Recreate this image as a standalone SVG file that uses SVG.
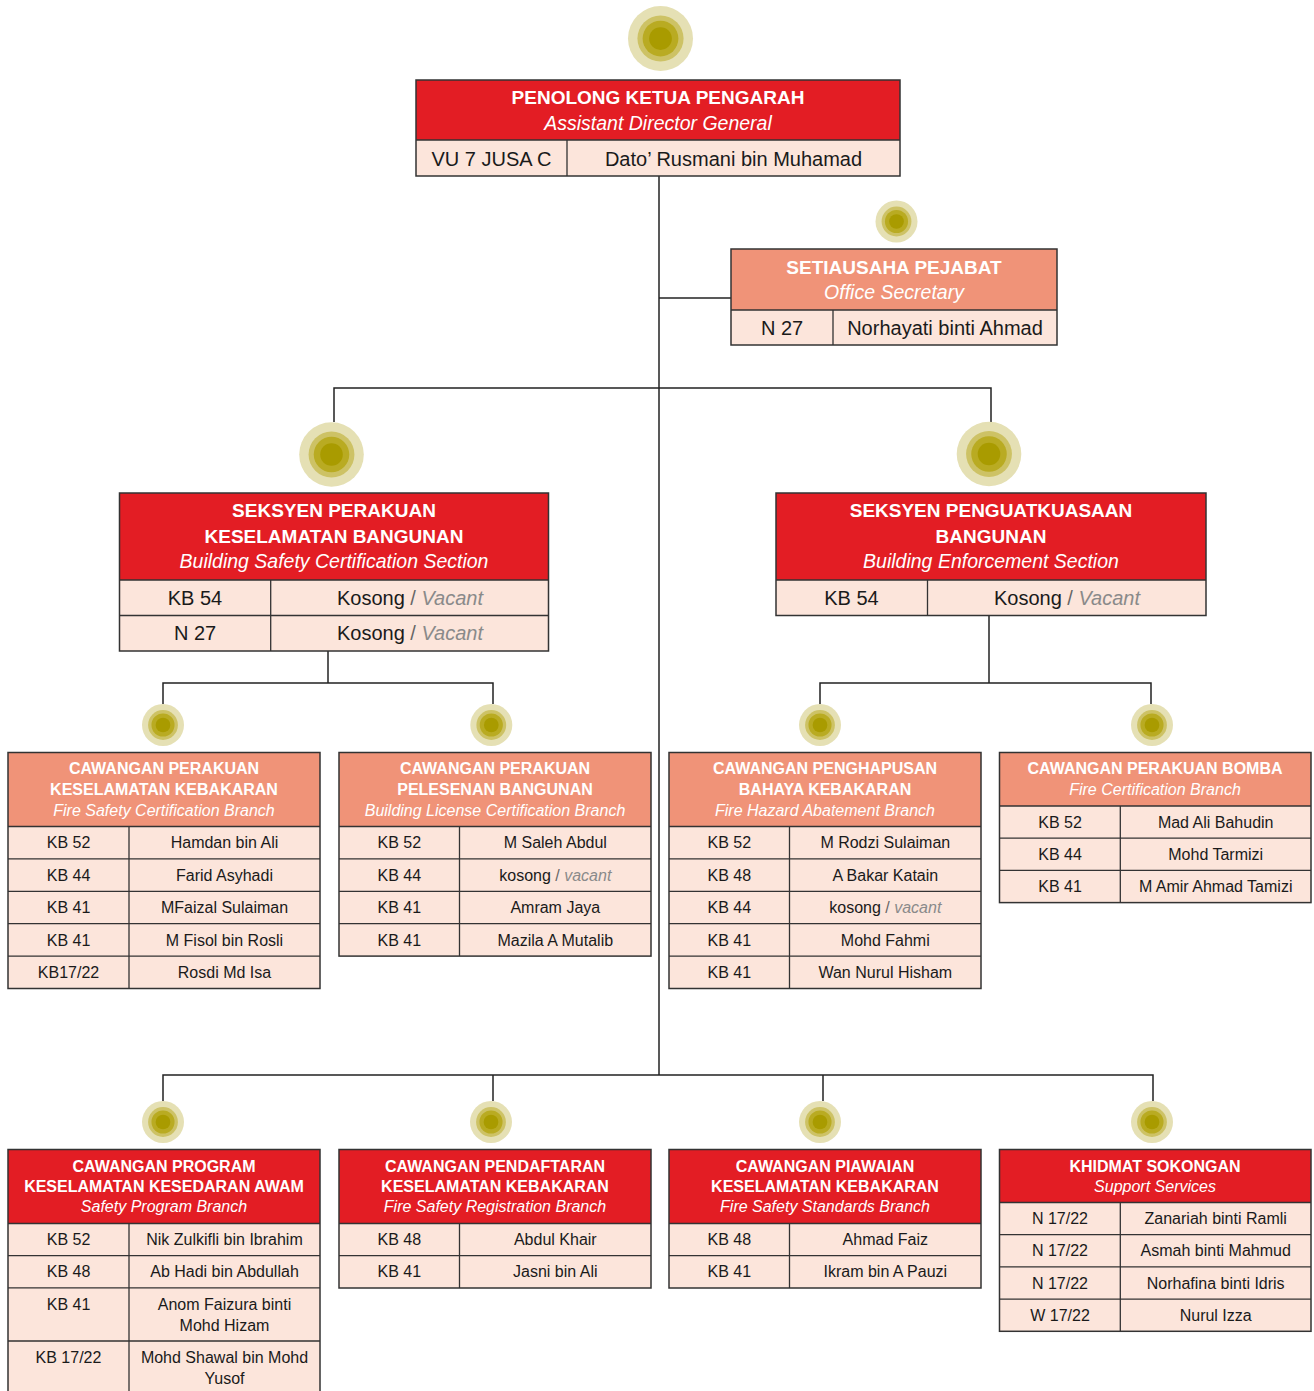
<svg xmlns="http://www.w3.org/2000/svg" xmlns:xlink="http://www.w3.org/1999/xlink" width="1314" height="1391" viewBox="0 0 1314 1391">
<style>
.red{fill:#e31d24}
.sal{fill:#f09378}
.row{fill:#fce5db}
.bd{fill:none;stroke:#333;stroke-width:1.5}
.ln{fill:none;stroke:#333;stroke-width:1.3}
.con{fill:none;stroke:#222;stroke-width:1.5}
text{font-family:"Liberation Sans",Arial,sans-serif;text-anchor:middle}
.t1{font-size:19px;font-weight:bold;fill:#fff}
.t2{font-size:16px;font-weight:bold;fill:#fff}
.i1{font-size:19.5px;font-style:italic;fill:#fff}
.i2{font-size:16px;font-style:italic;fill:#fff}
.r1{font-size:20px;fill:#1a1a1a}
.r2{font-size:16px;fill:#1a1a1a}
.sl{fill:#666}
.vac{fill:#8a8a8a;font-style:italic}
</style>
<defs>
<g id="dot">
<circle r="1" fill="#e5e0b4"/>
<circle r="0.71" fill="#cdc265"/>
<circle r="0.55" fill="#b9ab22"/>
<circle r="0.35" fill="#a99b00"/>
</g>
</defs>

<g id="connectors">
<path class="con" d="M659 176 V1075"/>
<path class="con" d="M659 298 H731"/>
<path class="con" d="M334 422 V388 H991 V422"/>
<path class="con" d="M328 651 V683"/>
<path class="con" d="M163 704 V683 H493 V704"/>
<path class="con" d="M989 616 V683"/>
<path class="con" d="M820 704 V683 H1151 V704"/>
<path class="con" d="M163 1101 V1075 H1153 V1101"/>
<path class="con" d="M493 1075 V1101"/>
<path class="con" d="M823 1075 V1101"/>
</g>

<g id="dots">
<use xlink:href="#dot" transform="translate(660.5 38.5) scale(32.5)"/>
<use xlink:href="#dot" transform="translate(896.5 221.5) scale(21)"/>
<use xlink:href="#dot" transform="translate(331.5 454.5) scale(32.3)"/>
<use xlink:href="#dot" transform="translate(989 454) scale(32.3)"/>
<use xlink:href="#dot" transform="translate(163 725) scale(21)"/>
<use xlink:href="#dot" transform="translate(491.3 725) scale(21)"/>
<use xlink:href="#dot" transform="translate(820 725) scale(21)"/>
<use xlink:href="#dot" transform="translate(1152 725) scale(21)"/>
<use xlink:href="#dot" transform="translate(163 1122) scale(21)"/>
<use xlink:href="#dot" transform="translate(491 1122) scale(21)"/>
<use xlink:href="#dot" transform="translate(820 1122) scale(21)"/>
<use xlink:href="#dot" transform="translate(1152 1122) scale(21)"/>
</g>

<g id="node-top">
<rect class="red" x="416" y="80" width="484" height="60"/>
<rect class="row" x="416" y="140" width="484" height="36"/>
<path class="ln" d="M416 140 H900 M567 140 V176"/>
<rect class="bd" x="416" y="80" width="484" height="96"/>
<text class="t1" x="658" y="104">PENOLONG KETUA PENGARAH</text>
<text class="i1" x="658" y="130">Assistant Director General</text>
<text class="r1" x="491.5" y="166">VU 7 JUSA C</text>
<text class="r1" x="733.5" y="166">Dato’ Rusmani bin Muhamad</text>
</g>

<g id="node-secretary">
<rect class="sal" x="731" y="249" width="326" height="61"/>
<rect class="row" x="731" y="310" width="326" height="35"/>
<path class="ln" d="M731 310 H1057 M833 310 V345"/>
<rect class="bd" x="731" y="249" width="326" height="96"/>
<text class="t1" x="894" y="274">SETIAUSAHA PEJABAT</text>
<text class="i1" x="894" y="299">Office Secretary</text>
<text class="r1" x="782" y="335">N 27</text>
<text class="r1" x="945" y="335">Norhayati binti Ahmad</text>
</g>

<g id="node-section-cert">
<rect class="red" x="119.5" y="493" width="429" height="87"/>
<rect class="row" x="119.5" y="580" width="429" height="71"/>
<path class="ln" d="M119.5 580 H548.5 M119.5 615.5 H548.5 M270.7 580 V651"/>
<rect class="bd" x="119.5" y="493" width="429" height="158"/>
<text class="t1" x="334" y="517">SEKSYEN PERAKUAN</text>
<text class="t1" x="334" y="543">KESELAMATAN BANGUNAN</text>
<text class="i1" x="334" y="568">Building Safety Certification Section</text>
<text class="r1" x="195" y="605">KB 54</text>
<text class="r1" x="410" y="605">Kosong <tspan class="sl">/ </tspan><tspan class="vac">Vacant</tspan></text>
<text class="r1" x="195" y="640">N 27</text>
<text class="r1" x="410" y="640">Kosong <tspan class="sl">/ </tspan><tspan class="vac">Vacant</tspan></text>
</g>

<g id="node-section-enf">
<rect class="red" x="776" y="493" width="430" height="87"/>
<rect class="row" x="776" y="580" width="430" height="35.5"/>
<path class="ln" d="M776 580 H1206 M927.5 580 V615.5"/>
<rect class="bd" x="776" y="493" width="430" height="122.5"/>
<text class="t1" x="991" y="517">SEKSYEN PENGUATKUASAAN</text>
<text class="t1" x="991" y="543">BANGUNAN</text>
<text class="i1" x="991" y="568">Building Enforcement Section</text>
<text class="r1" x="851.5" y="605">KB 54</text>
<text class="r1" x="1067" y="605">Kosong <tspan class="sl">/ </tspan><tspan class="vac">Vacant</tspan></text>
</g>

<g id="node-b1">
<rect class="sal" x="8" y="752.5" width="312" height="74"/>
<rect class="row" x="8" y="826.5" width="312" height="162"/>
<path class="ln" d="M8 826.5 H320 M8 858.9 H320 M8 891.3 H320 M8 923.7 H320 M8 956.1 H320 M129 826.5 V988.5"/>
<rect class="bd" x="8" y="752.5" width="312" height="236"/>
<text class="t2" x="164" y="774">CAWANGAN PERAKUAN</text>
<text class="t2" x="164" y="795">KESELAMATAN KEBAKARAN</text>
<text class="i2" x="164" y="815.5">Fire Safety Certification Branch</text>
<text class="r2" x="68.5" y="848">KB 52</text><text class="r2" x="224.5" y="848">Hamdan bin Ali</text>
<text class="r2" x="68.5" y="880.5">KB 44</text><text class="r2" x="224.5" y="880.5">Farid Asyhadi</text>
<text class="r2" x="68.5" y="913">KB 41</text><text class="r2" x="224.5" y="913">MFaizal Sulaiman</text>
<text class="r2" x="68.5" y="945.5">KB 41</text><text class="r2" x="224.5" y="945.5">M Fisol bin Rosli</text>
<text class="r2" x="68.5" y="978">KB17/22</text><text class="r2" x="224.5" y="978">Rosdi Md Isa</text>
</g>

<g id="node-b2">
<rect class="sal" x="339" y="752.5" width="312" height="74"/>
<rect class="row" x="339" y="826.5" width="312" height="129.6"/>
<path class="ln" d="M339 826.5 H651 M339 858.9 H651 M339 891.3 H651 M339 923.7 H651 M459.5 826.5 V956.1"/>
<rect class="bd" x="339" y="752.5" width="312" height="203.6"/>
<text class="t2" x="495" y="774">CAWANGAN PERAKUAN</text>
<text class="t2" x="495" y="795">PELESENAN BANGUNAN</text>
<text class="i2" x="495" y="815.5">Building License Certification Branch</text>
<text class="r2" x="399.3" y="848">KB 52</text><text class="r2" x="555.3" y="848">M Saleh Abdul</text>
<text class="r2" x="399.3" y="880.5">KB 44</text><text class="r2" x="555.3" y="880.5">kosong <tspan class="sl">/ </tspan><tspan class="vac">vacant</tspan></text>
<text class="r2" x="399.3" y="913">KB 41</text><text class="r2" x="555.3" y="913">Amram Jaya</text>
<text class="r2" x="399.3" y="945.5">KB 41</text><text class="r2" x="555.3" y="945.5">Mazila A Mutalib</text>
</g>

<g id="node-b3">
<rect class="sal" x="669" y="752.5" width="312" height="74"/>
<rect class="row" x="669" y="826.5" width="312" height="162"/>
<path class="ln" d="M669 826.5 H981 M669 858.9 H981 M669 891.3 H981 M669 923.7 H981 M669 956.1 H981 M789.5 826.5 V988.5"/>
<rect class="bd" x="669" y="752.5" width="312" height="236"/>
<text class="t2" x="825" y="774">CAWANGAN PENGHAPUSAN</text>
<text class="t2" x="825" y="795">BAHAYA KEBAKARAN</text>
<text class="i2" x="825" y="815.5">Fire Hazard Abatement Branch</text>
<text class="r2" x="729.3" y="848">KB 52</text><text class="r2" x="885.3" y="848">M Rodzi Sulaiman</text>
<text class="r2" x="729.3" y="880.5">KB 48</text><text class="r2" x="885.3" y="880.5">A Bakar Katain</text>
<text class="r2" x="729.3" y="913">KB 44</text><text class="r2" x="885.3" y="913">kosong <tspan class="sl">/ </tspan><tspan class="vac">vacant</tspan></text>
<text class="r2" x="729.3" y="945.5">KB 41</text><text class="r2" x="885.3" y="945.5">Mohd Fahmi</text>
<text class="r2" x="729.3" y="978">KB 41</text><text class="r2" x="885.3" y="978">Wan Nurul Hisham</text>
</g>

<g id="node-b4">
<rect class="sal" x="999.5" y="752.5" width="311.5" height="53.5"/>
<rect class="row" x="999.5" y="806" width="311.5" height="96.6"/>
<path class="ln" d="M999.5 806 H1311 M999.5 838.2 H1311 M999.5 870.4 H1311 M1120.3 806 V902.6"/>
<rect class="bd" x="999.5" y="752.5" width="311.5" height="150.1"/>
<text class="t2" x="1155" y="774">CAWANGAN PERAKUAN BOMBA</text>
<text class="i2" x="1155" y="795">Fire Certification Branch</text>
<text class="r2" x="1060" y="827.5">KB 52</text><text class="r2" x="1215.7" y="827.5">Mad Ali Bahudin</text>
<text class="r2" x="1060" y="860">KB 44</text><text class="r2" x="1215.7" y="860">Mohd Tarmizi</text>
<text class="r2" x="1060" y="892">KB 41</text><text class="r2" x="1215.7" y="892">M Amir Ahmad Tamizi</text>
</g>

<g id="node-c1">
<rect class="red" x="8" y="1149.5" width="312" height="74"/>
<rect class="row" x="8" y="1223.5" width="312" height="171"/>
<path class="ln" d="M8 1223.5 H320 M8 1255.7 H320 M8 1287.9 H320 M8 1341 H320 M129 1223.5 V1394.5"/>
<rect class="bd" x="8" y="1149.5" width="312" height="245"/>
<text class="t2" x="164" y="1171.7">CAWANGAN PROGRAM</text>
<text class="t2" x="164" y="1191.7">KESELAMATAN KESEDARAN AWAM</text>
<text class="i2" x="164" y="1212.3">Safety Program Branch</text>
<text class="r2" x="68.5" y="1245">KB 52</text><text class="r2" x="224.5" y="1245">Nik Zulkifli bin Ibrahim</text>
<text class="r2" x="68.5" y="1277.3">KB 48</text><text class="r2" x="224.5" y="1277.3">Ab Hadi bin Abdullah</text>
<text class="r2" x="68.5" y="1310">KB 41</text><text class="r2" x="224.5" y="1310">Anom Faizura binti</text><text class="r2" x="224.5" y="1330.5">Mohd Hizam</text>
<text class="r2" x="68.5" y="1363">KB 17/22</text><text class="r2" x="224.5" y="1363">Mohd Shawal bin Mohd</text><text class="r2" x="224.5" y="1383.5">Yusof</text>
</g>

<g id="node-c2">
<rect class="red" x="339" y="1149.5" width="312" height="74"/>
<rect class="row" x="339" y="1223.5" width="312" height="64.5"/>
<path class="ln" d="M339 1223.5 H651 M339 1255.7 H651 M459.5 1223.5 V1288"/>
<rect class="bd" x="339" y="1149.5" width="312" height="138.5"/>
<text class="t2" x="495" y="1171.7">CAWANGAN PENDAFTARAN</text>
<text class="t2" x="495" y="1191.7">KESELAMATAN KEBAKARAN</text>
<text class="i2" x="495" y="1212.3">Fire Safety Registration Branch</text>
<text class="r2" x="399.3" y="1245">KB 48</text><text class="r2" x="555.3" y="1245">Abdul Khair</text>
<text class="r2" x="399.3" y="1277.3">KB 41</text><text class="r2" x="555.3" y="1277.3">Jasni bin Ali</text>
</g>

<g id="node-c3">
<rect class="red" x="669" y="1149.5" width="312" height="74"/>
<rect class="row" x="669" y="1223.5" width="312" height="64.5"/>
<path class="ln" d="M669 1223.5 H981 M669 1255.7 H981 M789.5 1223.5 V1288"/>
<rect class="bd" x="669" y="1149.5" width="312" height="138.5"/>
<text class="t2" x="825" y="1171.7">CAWANGAN PIAWAIAN</text>
<text class="t2" x="825" y="1191.7">KESELAMATAN KEBAKARAN</text>
<text class="i2" x="825" y="1212.3">Fire Safety Standards Branch</text>
<text class="r2" x="729.3" y="1245">KB 48</text><text class="r2" x="885.3" y="1245">Ahmad Faiz</text>
<text class="r2" x="729.3" y="1277.3">KB 41</text><text class="r2" x="885.3" y="1277.3">Ikram bin A Pauzi</text>
</g>

<g id="node-c4">
<rect class="red" x="999.5" y="1149.5" width="311.5" height="53"/>
<rect class="row" x="999.5" y="1202.5" width="311.5" height="128.8"/>
<path class="ln" d="M999.5 1202.5 H1311 M999.5 1234.7 H1311 M999.5 1266.9 H1311 M999.5 1299.1 H1311 M1120.3 1202.5 V1331.3"/>
<rect class="bd" x="999.5" y="1149.5" width="311.5" height="181.8"/>
<text class="t2" x="1155" y="1171.7">KHIDMAT SOKONGAN</text>
<text class="i2" x="1155" y="1191.7">Support Services</text>
<text class="r2" x="1060" y="1224">N 17/22</text><text class="r2" x="1215.7" y="1224">Zanariah binti Ramli</text>
<text class="r2" x="1060" y="1256.3">N 17/22</text><text class="r2" x="1215.7" y="1256.3">Asmah binti Mahmud</text>
<text class="r2" x="1060" y="1288.5">N 17/22</text><text class="r2" x="1215.7" y="1288.5">Norhafina binti Idris</text>
<text class="r2" x="1060" y="1320.7">W 17/22</text><text class="r2" x="1215.7" y="1320.7">Nurul Izza</text>
</g>
</svg>
